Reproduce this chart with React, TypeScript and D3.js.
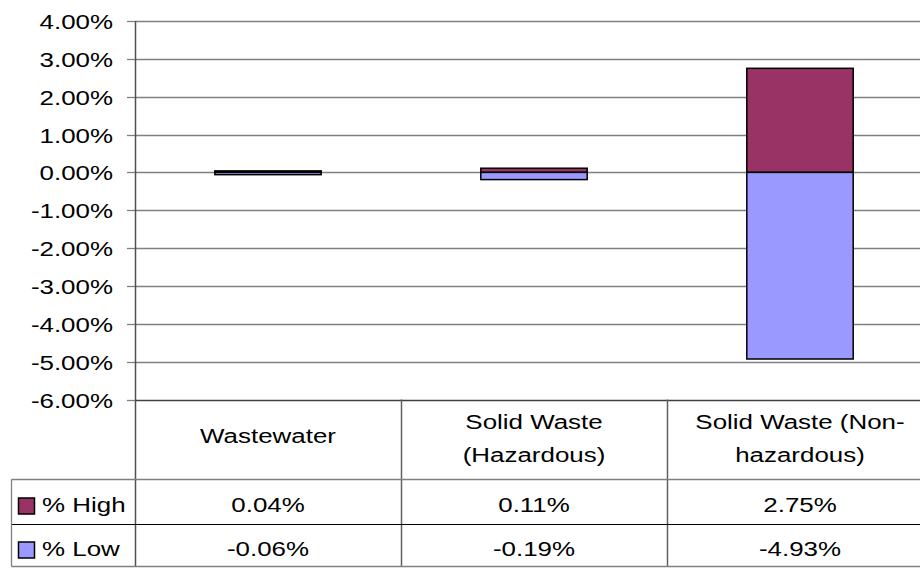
import React from 'react';
import * as d3 from 'd3';

const categories = ['Wastewater', 'Solid Waste (Hazardous)', 'Solid Waste (Non-hazardous)'];
const headerLines = [['Wastewater'], ['Solid Waste', '(Hazardous)'], ['Solid Waste (Non-', 'hazardous)']];
const highValues = [0.04, 0.11, 2.75];
const lowValues = [-0.06, -0.19, -4.93];
const seriesNames = ['% High', '% Low'];
const seriesColors = ['#993366', '#9999FF'];
const yDomain: [number, number] = [-6, 4];

const W = 920;
const H = 569;
const FONT = '"Liberation Sans", Arial, sans-serif';
const SX = 1.235; // the reference text is stretched sideways

const fmt = (v: number) => `${v.toFixed(2)}%`;

const Txt: React.FC<{ x: number; y: number; anchor?: string; children: React.ReactNode }> = ({ x, y, anchor = 'middle', children }) => (
  <text
    transform={`translate(${x},${y}) scale(${SX},1)`}
    textAnchor={anchor}
    fontFamily={FONT}
    fontSize={21}
    fill="#000"
  >
    {children}
  </text>
);

const App: React.FC = () => {
  // plot area
  const left = 135;
  const right = 933;
  const top = 21;
  const bottom = 399.5;

  const y = d3.scaleLinear().domain(yDomain).range([bottom, top]);
  const x = d3.scaleBand<string>().domain(categories).range([left, right]).paddingInner(0.6).paddingOuter(0.3);
  const step = x.step();
  const colEdges = categories.map((_, i) => left + i * step);

  // table rows
  const headBottom = 479.5;
  const rowBottoms = [524.5, 566.5];
  const legendLeft = 11.5;
  const rowBaselines = [512, 556];

  const ticks = d3.range(yDomain[0], yDomain[1] + 1, 1);

  return (
    <svg width={W} height={H} style={{ position: 'absolute', left: 0, top: 0, background: '#fff' }}>
      {/* gridlines and ticks */}
      {ticks.map(t => (
        <g key={t}>
          <line x1={left} x2={W} y1={Math.round(y(t)) + 0.5} y2={Math.round(y(t)) + 0.5}
            stroke={t === yDomain[0] ? '#404040' : '#808080'} strokeWidth={1.3} />
          <line x1={left - 8} x2={left} y1={Math.round(y(t)) + 0.5} y2={Math.round(y(t)) + 0.5}
            stroke="#808080" strokeWidth={1.3} />
          <Txt x={113} y={Math.round(y(t)) + 8} anchor="end">{fmt(t)}</Txt>
        </g>
      ))}

      {/* bars */}
      {categories.map((c, i) => {
        const bx = x(c) as number;
        const bw = x.bandwidth();
        return (
          <g key={c}>
            <rect x={bx} y={y(highValues[i])} width={bw} height={y(0) - y(highValues[i])}
              fill={seriesColors[0]} stroke="#000" strokeWidth={1.5} />
            <rect x={bx} y={y(0)} width={bw} height={y(lowValues[i]) - y(0)}
              fill={seriesColors[1]} stroke="#000" strokeWidth={1.5} />
          </g>
        );
      })}

      {/* value axis line */}
      <line x1={left + 0.5} x2={left + 0.5} y1={top} y2={rowBottoms[1]} stroke="#505050" strokeWidth={1.5} />

      {/* data table */}
      {colEdges.slice(1).map((cx, i) => (
        <line key={i} x1={Math.round(cx) + 0.5} x2={Math.round(cx) + 0.5} y1={bottom} y2={rowBottoms[1]}
          stroke="#606060" strokeWidth={1.5} />
      ))}
      <line x1={legendLeft} x2={W} y1={headBottom} y2={headBottom} stroke="#808080" strokeWidth={1.3} />
      <line x1={legendLeft} x2={W} y1={rowBottoms[0]} y2={rowBottoms[0]} stroke="#000" strokeWidth={1.2} />
      <line x1={legendLeft} x2={W} y1={rowBottoms[1]} y2={rowBottoms[1]} stroke="#808080" strokeWidth={1.3} />
      <line x1={legendLeft} x2={legendLeft} y1={headBottom} y2={rowBottoms[1]} stroke="#808080" strokeWidth={1.3} />

      {/* column headers */}
      {categories.map((c, i) => {
        const cx = (x(c) as number) + x.bandwidth() / 2;
        const lines = headerLines[i];
        const base = lines.length === 1 ? [443] : [429, 462];
        return lines.map((ln, j) => (
          <Txt key={c + j} x={cx} y={base[j]}>{ln}</Txt>
        ));
      })}

      {/* legend keys and row values */}
      {[highValues, lowValues].map((vals, r) => (
        <g key={r}>
          <rect x={18.5} y={rowBaselines[r] - 14} width={16} height={16}
            fill={seriesColors[r]} stroke="#000" strokeWidth={1.5} />
          <Txt x={42} y={rowBaselines[r]} anchor="start">{seriesNames[r]}</Txt>
          {categories.map((c, i) => (
            <Txt key={c} x={(x(c) as number) + x.bandwidth() / 2} y={rowBaselines[r]}>{fmt(vals[i])}</Txt>
          ))}
        </g>
      ))}
    </svg>
  );
};

export default App;
